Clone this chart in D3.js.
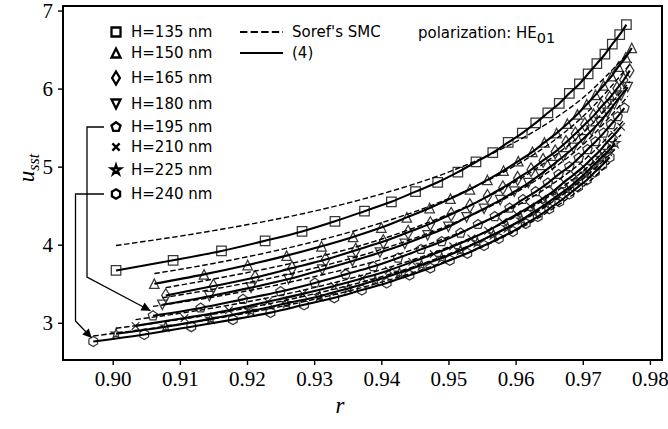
<!DOCTYPE html>
<html>
<head>
<meta charset="utf-8">
<script src="https://cdn.jsdelivr.net/npm/d3@7"></script>
<style>
  body { margin: 0; background: #fff; }
  svg { display: block; }
</style>
</head>
<body>
<div id="chart"></div>
<script>
// values
const heights = [135, 150, 165, 180, 195, 210, 225, 240];
const markerTypes = ["square", "triangle", "thinDiamond", "triangleDown", "pentagon", "x", "star", "hexagon"];
const xTicks = [0.90, 0.91, 0.92, 0.93, 0.94, 0.95, 0.96, 0.97, 0.98];
const yTicks = [3, 4, 5, 6, 7];

// computed points (markers + solid line "(4)")
const r135 = [0.9005,0.9090,0.9162,0.9227,0.9282,0.9331,0.9375,0.9415,0.9451,0.9484,0.9514,0.9541,0.9566,0.9589,0.9610,0.9630,0.9648,0.9665,0.9680,0.9695,0.9708,0.9721,0.9733,0.9744,0.9755,0.9765];
const u135 = [3.67,3.80,3.92,4.05,4.17,4.30,4.43,4.55,4.68,4.80,4.93,5.06,5.18,5.31,5.43,5.56,5.69,5.81,5.94,6.06,6.19,6.32,6.44,6.57,6.69,6.82];
const r150 = [0.9062,0.9136,0.9201,0.9259,0.9311,0.9358,0.9400,0.9438,0.9472,0.9503,0.9532,0.9558,0.9582,0.9604,0.9625,0.9643,0.9661,0.9677,0.9692,0.9706,0.9719,0.9731,0.9743,0.9753,0.9764,0.9773];
const u150 = [3.50,3.62,3.74,3.86,3.98,4.10,4.22,4.35,4.47,4.59,4.71,4.83,4.95,5.07,5.19,5.31,5.43,5.55,5.67,5.80,5.92,6.04,6.16,6.28,6.40,6.52];
const r165 = [0.9079,0.9150,0.9212,0.9267,0.9317,0.9362,0.9403,0.9440,0.9473,0.9504,0.9532,0.9558,0.9581,0.9603,0.9623,0.9641,0.9659,0.9675,0.9689,0.9703,0.9716,0.9728,0.9740,0.9751,0.9761,0.9770];
const u165 = [3.35,3.47,3.58,3.70,3.81,3.93,4.04,4.16,4.27,4.39,4.50,4.62,4.73,4.85,4.96,5.08,5.19,5.31,5.42,5.54,5.65,5.77,5.88,6.00,6.11,6.23];
const r180 = [0.9074,0.9144,0.9206,0.9262,0.9312,0.9357,0.9398,0.9435,0.9469,0.9500,0.9527,0.9553,0.9577,0.9598,0.9619,0.9637,0.9655,0.9671,0.9686,0.9700,0.9713,0.9725,0.9737,0.9747,0.9757,0.9767];
const u180 = [3.23,3.34,3.45,3.56,3.68,3.79,3.90,4.01,4.12,4.23,4.35,4.46,4.57,4.68,4.79,4.90,5.02,5.13,5.24,5.35,5.46,5.57,5.69,5.80,5.91,6.02];
const r195 = [0.9060,0.9131,0.9194,0.9250,0.9301,0.9347,0.9388,0.9425,0.9459,0.9490,0.9518,0.9544,0.9569,0.9591,0.9611,0.9630,0.9648,0.9664,0.9680,0.9694,0.9707,0.9719,0.9731,0.9742,0.9752,0.9762];
const u195 = [3.09,3.19,3.30,3.40,3.51,3.62,3.72,3.83,3.94,4.04,4.15,4.26,4.36,4.47,4.58,4.68,4.79,4.90,5.00,5.11,5.22,5.32,5.43,5.54,5.64,5.75];
const r210 = [0.9034,0.9107,0.9173,0.9231,0.9283,0.9330,0.9372,0.9411,0.9446,0.9478,0.9507,0.9534,0.9559,0.9581,0.9602,0.9622,0.9640,0.9657,0.9672,0.9687,0.9701,0.9713,0.9725,0.9736,0.9747,0.9757];
const u210 = [2.96,3.06,3.16,3.27,3.37,3.47,3.57,3.67,3.78,3.88,3.98,4.08,4.18,4.29,4.39,4.49,4.59,4.69,4.80,4.90,5.00,5.10,5.20,5.31,5.41,5.51];
const r225 = [0.9005,0.9079,0.9146,0.9206,0.9259,0.9308,0.9351,0.9391,0.9427,0.9460,0.9490,0.9518,0.9543,0.9567,0.9588,0.9609,0.9627,0.9645,0.9661,0.9676,0.9690,0.9703,0.9715,0.9727,0.9738,0.9748];
const u225 = [2.86,2.95,3.05,3.15,3.25,3.34,3.44,3.54,3.64,3.74,3.83,3.93,4.03,4.13,4.22,4.32,4.42,4.52,4.62,4.71,4.81,4.91,5.01,5.11,5.20,5.30];
const r240 = [0.8971,0.9047,0.9117,0.9179,0.9235,0.9285,0.9330,0.9371,0.9408,0.9442,0.9473,0.9502,0.9528,0.9553,0.9575,0.9596,0.9615,0.9633,0.9650,0.9665,0.9680,0.9693,0.9706,0.9718,0.9729,0.9740];
const u240 = [2.76,2.85,2.95,3.04,3.13,3.23,3.32,3.42,3.51,3.61,3.70,3.80,3.89,3.99,4.08,4.17,4.27,4.36,4.46,4.55,4.65,4.74,4.83,4.93,5.02,5.12];

// Soref's SMC (dashed)
const dr135 = [0.9005,0.915,0.93,0.94,0.95,0.958,0.965,0.970,0.9765];
const du135 = [3.99,4.18,4.43,4.65,4.93,5.23,5.57,5.88,6.43];
const dr150 = [0.9062,0.915,0.93,0.94,0.95,0.958,0.965,0.970,0.9773];
const du150 = [3.63,3.76,4.04,4.28,4.59,4.92,5.29,5.64,6.34];
const dr165 = [0.9079,0.915,0.93,0.94,0.95,0.958,0.965,0.970,0.9770];
const du165 = [3.45,3.56,3.83,4.07,4.39,4.71,5.09,5.43,6.09];
const dr180 = [0.9074,0.915,0.93,0.94,0.95,0.958,0.965,0.970,0.9767];
const du180 = [3.32,3.43,3.70,3.94,4.25,4.57,4.94,5.28,5.90];
const dr195 = [0.9060,0.915,0.93,0.94,0.95,0.958,0.965,0.970,0.9762];
const du195 = [3.21,3.33,3.59,3.81,4.10,4.40,4.75,5.07,5.60];
const dr210 = [0.9034,0.915,0.93,0.94,0.95,0.958,0.965,0.970,0.9757];
const du210 = [3.04,3.19,3.45,3.68,3.97,4.27,4.62,4.94,5.41];
const dr225 = [0.9005,0.915,0.93,0.94,0.95,0.958,0.965,0.970,0.9748];
const du225 = [2.93,3.11,3.37,3.59,3.88,4.18,4.52,4.84,5.22];
const dr240 = [0.8971,0.915,0.93,0.94,0.95,0.958,0.965,0.970,0.9740];
const du240 = [2.83,3.05,3.30,3.52,3.80,4.09,4.43,4.74,5.05];

const pointR = [r135, r150, r165, r180, r195, r210, r225, r240];
const pointU = [u135, u150, u165, u180, u195, u210, u225, u240];
const dashR = [dr135, dr150, dr165, dr180, dr195, dr210, dr225, dr240];
const dashU = [du135, du150, du165, du180, du195, du210, du225, du240];

const width = 668;
const height = 429;
const margin = { top: 6, right: 6, bottom: 69, left: 63 };

const svg = d3.select("#chart").append("svg")
  .attr("width", width)
  .attr("height", height);

const x = d3.scaleLinear()
  .domain([0.8926, 0.9818])
  .range([margin.left, width - margin.right]);
const y = d3.scaleLinear()
  .domain([2.523, 7.058])
  .range([height - margin.bottom, margin.top]);

function zip(rs, us) {
  return rs.map((r, i) => [r, us[i]]);
}

function markerPath(type, ms) {
  const h = ms / 2;
  const poly = pts => "M" + pts.map(p => p[0].toFixed(2) + "," + p[1].toFixed(2)).join("L") + "Z";
  const regular = (n, rad, rot) => d3.range(n).map(k => {
    const a = rot + k * 2 * Math.PI / n;
    return [rad * Math.cos(a), rad * Math.sin(a)];
  });
  switch (type) {
    case "square": return poly([[-h, -h], [h, -h], [h, h], [-h, h]]);
    case "triangle": return poly([[0, -h], [h, h], [-h, h]]);
    case "triangleDown": return poly([[0, h], [h, -h], [-h, -h]]);
    case "thinDiamond": return poly([[0, -0.72 * ms], [0.43 * ms, 0], [0, 0.72 * ms], [-0.43 * ms, 0]]);
    case "pentagon": return poly(regular(5, h * 1.05, -Math.PI / 2));
    case "hexagon": return poly(regular(6, h * 1.05, -Math.PI / 2));
    case "star": {
      const pts = [];
      for (let k = 0; k < 10; k++) {
        const rad = k % 2 === 0 ? h * 1.1 : h * 1.1 * 0.382;
        const a = -Math.PI / 2 + k * Math.PI / 5;
        pts.push([rad * Math.cos(a), rad * Math.sin(a)]);
      }
      return poly(pts);
    }
    case "x": {
      const q = ms * 0.4;
      return `M${-q},${-q}L${q},${q}M${-q},${q}L${q},${-q}`;
    }
  }
}

const solid = d3.line()
  .x(d => x(d[0]))
  .y(d => y(d[1]))
  .curve(d3.curveMonotoneX);

const plot = svg.append("g");

// markers
heights.forEach((hgt, i) => {
  plot.append("g")
    .selectAll("path")
    .data(zip(pointR[i], pointU[i]))
    .enter()
    .append("path")
    .attr("transform", d => `translate(${x(d[0])},${y(d[1])})`)
    .attr("d", markerPath(markerTypes[i], 9.5))
    .attr("fill", "none")
    .attr("stroke", "#383838")
    .attr("stroke-width", 1.25)
    .attr("stroke-linejoin", "miter");
});

// dashed: Soref's SMC
heights.forEach((hgt, i) => {
  plot.append("path")
    .datum(zip(dashR[i], dashU[i]))
    .attr("fill", "none")
    .attr("stroke", "#000")
    .attr("stroke-width", 1.4)
    .attr("stroke-dasharray", "5.5,2.6")
    .attr("d", solid);
});

// solid: (4)
heights.forEach((hgt, i) => {
  plot.append("path")
    .datum(zip(pointR[i], pointU[i]))
    .attr("fill", "none")
    .attr("stroke", "#000")
    .attr("stroke-width", 2.1)
    .attr("d", solid);
});

// axes
const xAxis = svg.append("g")
  .attr("transform", `translate(0,${height - margin.bottom})`)
  .call(d3.axisBottom(x).tickValues(xTicks).tickFormat(d3.format(".2f")).tickSize(5).tickSizeOuter(0));
xAxis.select(".domain").remove();
xAxis.selectAll(".tick line").attr("stroke-width", 1.4);
xAxis.selectAll(".tick text")
  .attr("y", 26)
  .attr("dy", null)
  .style("font-family", "'Liberation Serif', serif")
  .style("font-size", "21px")
  .attr("fill", "#000");

const yAxis = svg.append("g")
  .attr("transform", `translate(${margin.left},0)`)
  .call(d3.axisLeft(y).tickValues(yTicks).tickFormat(d3.format("d")).tickSize(5).tickSizeOuter(0));
yAxis.select(".domain").remove();
yAxis.selectAll(".tick line").attr("stroke-width", 1.4);
yAxis.selectAll(".tick text")
  .attr("x", -10)
  .attr("dy", "0.34em")
  .style("font-family", "'Liberation Serif', serif")
  .style("font-size", "21px")
  .attr("fill", "#000");

// frame
svg.append("rect")
  .attr("x", margin.left)
  .attr("y", margin.top)
  .attr("width", width - margin.left - margin.right)
  .attr("height", height - margin.top - margin.bottom)
  .attr("fill", "none")
  .attr("stroke", "#000")
  .attr("stroke-width", 2);

// axis labels
svg.append("text")
  .attr("x", 340)
  .attr("y", 413)
  .attr("text-anchor", "middle")
  .style("font-family", "'Liberation Serif', serif")
  .style("font-style", "italic")
  .style("font-size", "23px")
  .text("r");

const yLab = svg.append("text")
  .attr("transform", "translate(34,168) rotate(-90)")
  .attr("text-anchor", "middle")
  .style("font-family", "'Liberation Serif', serif")
  .style("font-style", "italic")
  .style("font-size", "23px");
yLab.append("tspan").text("u");
yLab.append("tspan").attr("dy", 5).style("font-size", "16px").text("sst");

// legend: markers
const legendY = [32, 53, 78, 104, 127, 147, 170, 194];
const legend = svg.append("g").style("font-family", "'DejaVu Sans', sans-serif").style("font-size", "15px");
heights.forEach((hgt, i) => {
  legend.append("path")
    .attr("transform", `translate(116,${legendY[i]})`)
    .attr("d", markerPath(markerTypes[i], 9))
    .attr("fill", "#fff")
    .attr("stroke", "#000")
    .attr("stroke-width", 2.3);
  legend.append("text")
    .attr("x", 131)
    .attr("y", legendY[i])
    .attr("dy", "0.36em")
    .text(`H=${hgt} nm`);
});

// legend: line styles
legend.append("line")
  .attr("x1", 240).attr("x2", 283).attr("y1", 32).attr("y2", 32)
  .attr("stroke", "#000").attr("stroke-width", 2).attr("stroke-dasharray", "7.4,3.2");
legend.append("text").attr("x", 292).attr("y", 32).attr("dy", "0.36em").text("Soref's SMC");
legend.append("line")
  .attr("x1", 240).attr("x2", 283).attr("y1", 53).attr("y2", 53)
  .attr("stroke", "#000").attr("stroke-width", 2);
legend.append("text").attr("x", 292).attr("y", 53).attr("dy", "0.36em").text("(4)");

const pol = legend.append("text").attr("x", 418).attr("y", 38);
pol.append("tspan").text("polarization: HE");
pol.append("tspan").attr("dy", 5).style("font-size", "14.5px").text("01");

// arrows from legend to first points of H=195 and H=240
svg.append("defs").append("marker")
  .attr("id", "head")
  .attr("viewBox", "0 0 10 10")
  .attr("refX", 10).attr("refY", 5)
  .attr("markerWidth", 11).attr("markerHeight", 9)
  .attr("markerUnits", "userSpaceOnUse")
  .attr("orient", "auto")
  .append("path")
  .attr("d", "M0,0L10,5L0,10Z")
  .attr("fill", "#000");

const arrows = [
  { row: 4, xv: 87, yBend: 277, dx: -2.5, dy: -5 },
  { row: 7, xv: 75.5, yBend: 321, dx: -1.5, dy: -3.5 }
];
arrows.forEach(a => {
  const i = a.row;
  const tx = x(pointR[i][0]) + a.dx;
  const ty = y(pointU[i][0]) + a.dy;
  svg.append("path")
    .attr("d", `M104,${legendY[i]}L${a.xv},${legendY[i]}L${a.xv},${a.yBend}L${tx},${ty}`)
    .attr("fill", "none")
    .attr("stroke", "#000")
    .attr("stroke-width", 1.3)
    .attr("marker-end", "url(#head)");
});
</script>
</body>
</html>
